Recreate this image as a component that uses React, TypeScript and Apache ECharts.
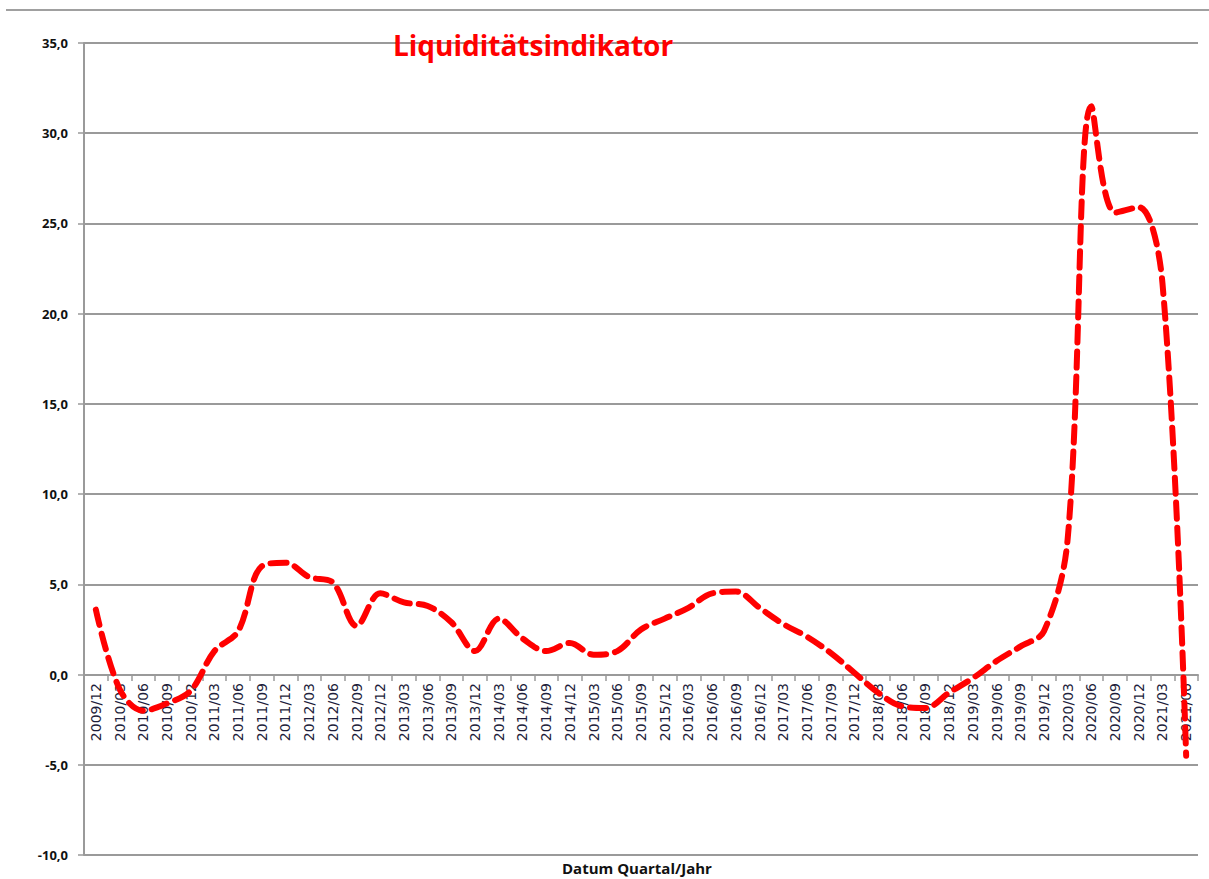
import React, { useEffect, useRef } from "react";
import * as echarts from "echarts";

const categories = [
  "2009/12", "2010/03", "2010/06", "2010/09", "2010/12",
  "2011/03", "2011/06", "2011/09", "2011/12",
  "2012/03", "2012/06", "2012/09", "2012/12",
  "2013/03", "2013/06", "2013/09", "2013/12",
  "2014/03", "2014/06", "2014/09", "2014/12",
  "2015/03", "2015/06", "2015/09", "2015/12",
  "2016/03", "2016/06", "2016/09", "2016/12",
  "2017/03", "2017/06", "2017/09", "2017/12",
  "2018/03", "2018/06", "2018/09", "2018/12",
  "2019/03", "2019/06", "2019/09", "2019/12",
  "2020/03", "2020/06", "2020/09", "2020/12",
  "2021/03", "2021/06",
];

const liquiditaet = [
  3.6, -0.8, -2.0, -1.6, -0.9,
  1.3, 2.4, 6.0, 6.2,
  5.4, 5.1, 2.7, 4.5,
  4.0, 3.8, 2.9, 1.3,
  3.1, 2.0, 1.3, 1.75,
  1.1, 1.3, 2.5, 3.1,
  3.7, 4.5, 4.6, 3.7,
  2.8, 2.1, 1.2, 0.1,
  -1.0, -1.75, -1.85, -1.0,
  -0.2, 0.75, 1.55, 2.4,
  7.5, 31.5, 25.6, 25.9,
  21.7, -4.5,
];

const title = "Liquiditätsindikator";
const xAxisName = "Datum Quartal/Jahr";

export default function App() {
  const ref = useRef<HTMLDivElement>(null);
  useEffect(() => {
    if (!ref.current) return;
    const chart = echarts.init(ref.current, null, { renderer: "svg" });
    chart.setOption({
      animation: false,
      backgroundColor: "#ffffff",
      textStyle: { fontFamily: "Open Sans" },
      title: {
        text: title,
        left: 388,
        top: 26,
        textStyle: { color: "#ff0000", fontSize: 28, fontWeight: "bold", fontFamily: "Open Sans" },
      },
      graphic: [
        {
          type: "line",
          shape: { x1: 6, y1: 10, x2: 1209, y2: 10 },
          style: { stroke: "#a0a0a0", lineWidth: 2 },
        },
        {
          type: "text",
          left: 562,
          top: 860,
          style: {
            text: xAxisName,
            fontSize: 15,
            fontWeight: "bold",
            fill: "#111",
            fontFamily: "Open Sans",
          },
        },
      ],
      grid: { left: 84, right: 11, top: 43, bottom: 24, containLabel: false, outerBoundsMode: "none" },
      xAxis: {
        type: "category",
        data: categories,
        boundaryGap: true,
        position: "bottom",
        offset: -180,
        axisLine: { onZero: false, lineStyle: { color: "#9a9a9a", width: 2 } },
        axisTick: { show: true, length: 6, lineStyle: { color: "#9a9a9a", width: 1.5 } },
        axisLabel: {
          rotate: 90,
          interval: 0,
          fontSize: 14,
          color: "#1e1e3c",
          margin: 8,
          fontFamily: "DejaVu Sans",
        },
      },
      yAxis: {
        type: "value",
        min: -10,
        max: 35,
        interval: 5,
        axisLine: { show: true, lineStyle: { color: "#9a9a9a", width: 2 } },
        axisTick: { show: true, length: 6, lineStyle: { color: "#9a9a9a", width: 1.5 } },
        splitLine: { show: true, lineStyle: { color: "#9a9a9a", width: 2 } },
        axisLabel: {
          fontSize: 13,
          fontWeight: "bold",
          color: "#111",
          margin: 16,
          formatter: (v: number) => v.toFixed(1).replace(".", ","),
        },
      },
      series: [
        {
          type: "line",
          data: liquiditaet,
          smooth: 0.35,
          showSymbol: false,
          symbol: "none",
          lineStyle: { color: "#ff0000", width: 6, type: [16, 9], cap: "round" },
        },
      ],
    });
    return () => chart.dispose();
  }, []);
  return (
    <div
      ref={ref}
      style={{ position: "fixed", left: 0, top: 0, width: 1209, height: 879 }}
    />
  );
}
